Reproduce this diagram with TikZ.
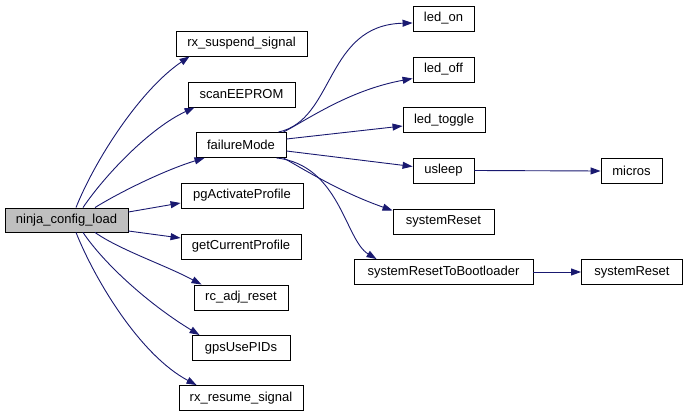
\documentclass[tikz,border=0pt]{standalone}
\usepackage{fontspec}
\setmainfont{Liberation Sans}
\usetikzlibrary{arrows.meta}
\definecolor{edgeblue}{RGB}{25,25,112}
\definecolor{curgray}{RGB}{191,191,191}
\begin{document}
\begin{tikzpicture}[x=1pt,y=-1pt,
  fn/.style={draw=black, line width=0.9pt, minimum height=25pt, inner sep=0pt,
    font=\fontsize{13}{15}\selectfont, fill=white},
  call/.style={draw=edgeblue, line width=0.9pt, -{Triangle[length=10pt,width=7pt]}}]
\useasboundingbox (0,0) rectangle (688,417);
% nodes
\node[fn, fill=curgray, minimum width=123pt, minimum height=24pt] (ninja) at (66.5,220) {ninja\_config\_load};
\node[fn, minimum width=131pt] (rxs) at (241.5,43.5) {rx\_suspend\_signal};
\node[fn, minimum width=107pt] (scan) at (241.5,94.5) {scanEEPROM};
\node[fn, minimum width=90pt] (fm) at (241,145) {failureMode};
\node[fn, minimum width=122pt] (pg) at (242,195.5) {pgActivateProfile};
\node[fn, minimum width=120pt] (gcp) at (241,246.5) {getCurrentProfile};
\node[fn, minimum width=94pt] (rc) at (241,297.5) {rc\_adj\_reset};
\node[fn, minimum width=98pt] (gps) at (241,348) {gpsUsePIDs};
\node[fn, minimum width=124pt] (rxr) at (241,398) {rx\_resume\_signal};
\node[fn, minimum width=61pt] (ledon) at (443.5,18.5) {led\_on};
\node[fn, minimum width=61pt] (ledoff) at (443.5,69.5) {led\_off};
\node[fn, minimum width=82pt] (ledt) at (444,120) {led\_toggle};
\node[fn, minimum width=61pt] (us) at (443.5,170.5) {usleep};
\node[fn, minimum width=101pt] (sra) at (443.5,221.5) {systemReset};
\node[fn, minimum width=179pt] (srtb) at (443.5,272) {systemResetToBootloader};
\node[fn, minimum width=101pt] (srb) at (632,272) {systemReset};
\node[fn, minimum width=61pt] (mic) at (631.5,171) {micros};
% edges from ninja_config_load
\draw[call] ([xshift=9.5pt]ninja.north) .. controls (95,160) and (140,90) .. ([xshift=14pt]rxs.south west);
\draw[call] ([xshift=16.5pt]ninja.north) .. controls (105,175) and (150,128) .. ([xshift=7pt]scan.south west);
\draw[call] ([xshift=28.5pt]ninja.north) .. controls (120,192) and (165,170) .. ([xshift=9pt]fm.south west);
\draw[call] ([yshift=8pt]ninja.east) -- ([yshift=-7.5pt]pg.west);
\draw[call] ([yshift=-11pt]ninja.east) -- ([yshift=8.5pt]gcp.west);
\draw[call] ([xshift=28.5pt]ninja.south) .. controls (120,250) and (165,265) .. ([xshift=8pt]rc.north west);
\draw[call] ([xshift=16.5pt]ninja.south) .. controls (105,265) and (150,305) .. ([xshift=8pt]gps.north west);
\draw[call] ([xshift=9.5pt]ninja.south) .. controls (95,280) and (140,355) .. ([xshift=18pt]rxr.north west);
% edges from failureMode
\draw[call] ([xshift=-8pt]fm.north east) .. controls (335,120) and (325,25) .. ([yshift=-4.5pt]ledon.west);
\draw[call] ([xshift=-3pt]fm.north east) .. controls (310,118) and (350,90) .. ([yshift=-9pt]ledoff.west);
\draw[call] ([yshift=6pt]fm.east) -- ([yshift=-6pt]ledt.west);
\draw[call] ([yshift=-6pt]fm.east) -- ([yshift=4pt]us.west);
\draw[call] ([xshift=-3pt]fm.south east) .. controls (305,170) and (340,192) .. ([yshift=11pt]sra.west);
\draw[call] ([xshift=-10pt]fm.south east) .. controls (340,165) and (345,240) .. ([xshift=23pt]srtb.north west);
% other edges
\draw[call] (us.east) -- (mic.west);
\draw[call] (srtb.east) -- (srb.west);
\end{tikzpicture}
\end{document}
